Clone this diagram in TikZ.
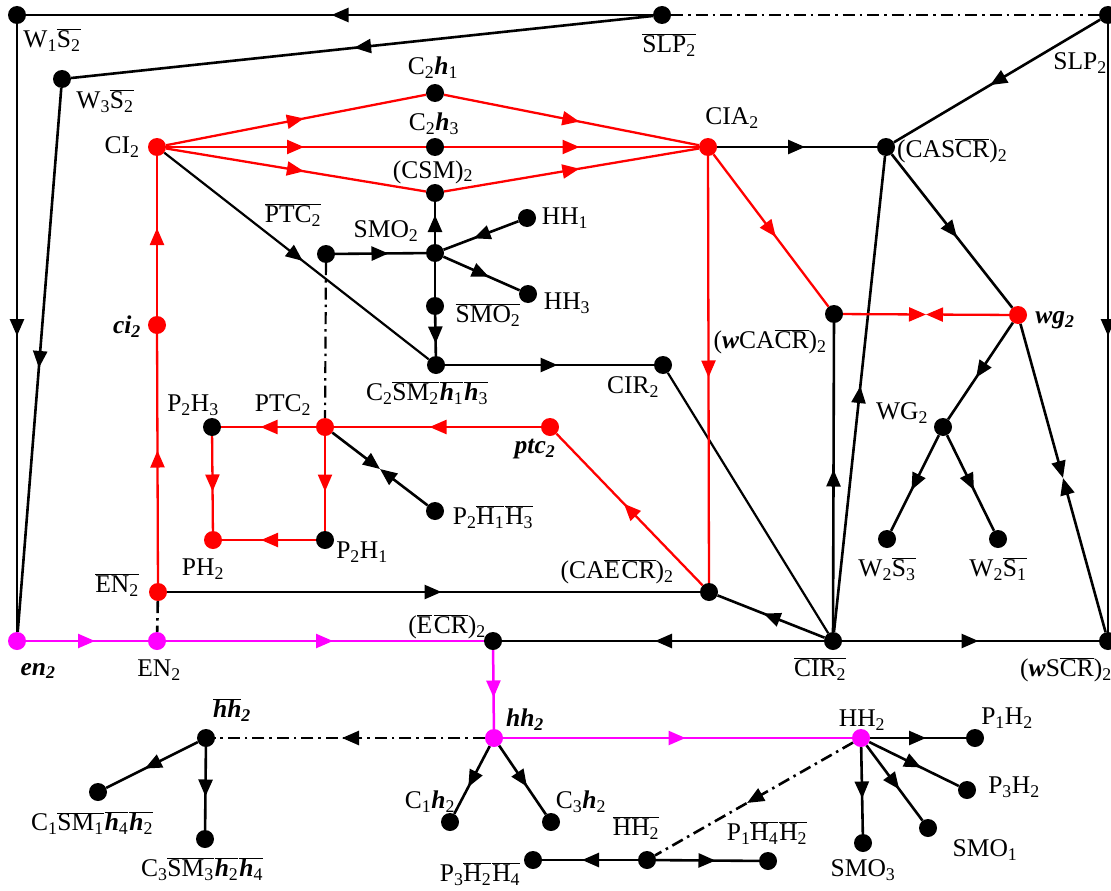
\documentclass[tikz,border=0pt]{standalone}
\usepackage{fontspec}
\setmainfont{Liberation Serif}
\usetikzlibrary{arrows.meta,decorations.markings,calc}
\definecolor{mag}{RGB}{255,0,255}
\definecolor{rd}{RGB}{255,0,0}
\newcommand{\lsub}[1]{\textsubscript{#1}}
\newcommand{\ov}[1]{\ensuremath{\overline{\mbox{#1}}}}
\newcommand{\bi}[1]{\textbf{\textit{#1}}}
\tikzset{
 blk/.style={line width=2.6pt,draw=black},
 thn/.style={line width=2.2pt,draw=black},
 rln/.style={line width=2.3pt,draw=rd},
 mln/.style={line width=2.5pt,draw=mag},
 ma/.style={decoration={markings,mark=at position 0.5 with {\arrow[xshift=8pt]{>}}},postaction={decorate}},
 dd/.style={dash pattern=on 12pt off 5pt on 2.5pt off 5pt},
 bdot/.style={circle,fill=black,inner sep=0pt,minimum size=18pt},
 rdot/.style={bdot,fill=rd},
 mdot/.style={bdot,fill=mag},
 lbl/.style={inner sep=0pt,font=\fontsize{25.5}{29}\selectfont},
}
\begin{document}
\begin{tikzpicture}[x=1pt,y=-1pt,>={Triangle[length=17pt,width=14pt]}]
\useasboundingbox (0,0) rectangle (1111,891);
% dots
\node[bdot] (w1) at (17,15) {};
\node[bdot] (slpb) at (662,15) {};
\node[bdot] (slp) at (1108,15) {};
\node[bdot] (w3) at (62,79) {};
\node[rdot] (ci) at (157,147) {};
\node[bdot] (c2ha) at (435,93) {};
\node[bdot] (c2hc) at (435,147) {};
\node[bdot] (csm) at (435,193) {};
\node[rdot] (cia) at (708,147) {};
\node[bdot] (cascr) at (886,147) {};
\node[bdot] (wcacr) at (834,314) {};
\node[rdot] (wg) at (1018,315) {};
\node[bdot] (wgc) at (943,427) {};
\node[bdot] (w2s3) at (887,539) {};
\node[bdot] (w2s1) at (998,539) {};
\node[bdot] (cirb) at (833,641) {};
\node[bdot] (wscr) at (1108,641) {};
\node[bdot] (caecr) at (709,592) {};
\node[bdot] (cir) at (663,365) {};
\node[bdot] (c2sm) at (436,365) {};
\node[rdot] (ptcs) at (550,427) {};
\node[bdot] (p2hh) at (435,511) {};
\node[bdot] (smob) at (435,306) {};
\node[bdot] (smo) at (435,253) {};
\node[bdot] (ptcb) at (326,254) {};
\node[bdot] (hha) at (527,218) {};
\node[bdot] (hhc) at (528,294) {};
\node[rdot] (cis) at (157,325) {};
\node[bdot] (p2h3) at (212,427) {};
\node[rdot] (ptc) at (325,427) {};
\node[rdot] (ph) at (213,540) {};
\node[bdot] (p2h1) at (325,540) {};
\node[rdot] (enb) at (158,592) {};
\node[mdot] (enc) at (157,641) {};
\node[mdot] (ens) at (17,641) {};
\node[bdot] (hhb) at (206,738) {};
\node[bdot] (c1sm) at (98,792) {};
\node[bdot] (c3sm) at (205,839) {};
\node[bdot] (ecr) at (493,641) {};
\node[mdot] (hhs) at (494,738) {};
\node[bdot] (c1h) at (450,822) {};
\node[bdot] (c3h) at (551,822) {};
\node[bdot] (hh2b) at (647,860) {};
\node[bdot] (p3hh) at (533,860) {};
\node[bdot] (p1hh) at (768,861) {};
\node[mdot] (hh2) at (861,738) {};
\node[bdot] (p1h2) at (975,738) {};
\node[bdot] (p3h2) at (967,790) {};
\node[bdot] (smo1) at (928,828) {};
\node[bdot] (smo3) at (863,843) {};
% black connectors
\draw[blk,ma] (slpb) -- (w1);
\draw[blk,ma] (slpb) -- (w3);
\draw[blk,dd] (slpb) -- (slp);
\draw[blk,ma] (slp) -- (cascr);
\draw[blk,ma] (w1) -- (ens);
\draw[blk,ma] (w3) -- (ens);
\draw[blk,ma] (slp) -- (wscr);
\draw[blk,ma] (cia) -- (cascr);
\draw[blk,ma] (cascr) -- (wg);
\draw[blk,ma] (cirb) -- (cascr);
\draw[blk,ma] (cirb) -- (wcacr);
\draw[blk,ma] (wg) -- (wgc);
\draw[blk,ma] (wgc) -- (w2s3);
\draw[blk,ma] (wgc) -- (w2s1);
\draw[blk,->] (wg) -- ($(wg)!0.5!(wscr)$);
\draw[blk,->] (wscr) -- ($(wg)!0.5!(wscr)$);
\draw[blk,ma] (cirb) -- (wscr);
\draw[blk,ma] (cirb) -- (ecr);
\draw[blk,ma] (cirb) -- (caecr);
\draw[thn] (cir) -- (cirb);
\draw[blk,ma] (c2sm) -- (cir);
\draw[thn,ma] (ci) -- (c2sm);
\draw[blk,ma] (ptcb) -- (smo);
\draw[blk,ma] (smo) -- (csm);
\draw[blk,ma] (hha) -- (smo);
\draw[blk,ma] (smo) -- (hhc);
\draw[blk] (smo) -- (smob);
\draw[blk,ma] (smob) -- (c2sm);
\draw[thn,dd] (ptcb) -- (ptc);
\draw[blk,->] (ptc) -- ($(ptc)!0.5!(p2hh)$);
\draw[blk,->] (p2hh) -- ($(ptc)!0.5!(p2hh)$);
\draw[blk,ma] (enb) -- (caecr);
\draw[blk,dd] (enb) -- (enc);
\draw[blk,dd,ma] (hhs) -- (hhb);
\draw[blk,ma] (hhb) -- (c1sm);
\draw[blk,ma] (hhb) -- (c3sm);
\draw[blk,ma] (hhs) -- (c1h);
\draw[blk,ma] (hhs) -- (c3h);
\draw[blk,ma] (hh2b) -- (p3hh);
\draw[blk,ma] (hh2b) -- (p1hh);
\draw[blk,ma] (hh2) -- (p1h2);
\draw[blk,ma] (hh2) -- (p3h2);
\draw[blk,ma] (hh2) -- (smo1);
\draw[blk,ma] (hh2) -- (smo3);
\draw[blk,dd,ma] (hh2) -- (hh2b);
% red connectors
\draw[rln,ma] (ci) -- (c2ha);
\draw[rln,ma] (c2ha) -- (cia);
\draw[rln,ma] (ci) -- (c2hc);
\draw[rln,ma] (c2hc) -- (cia);
\draw[rln,ma] (ci) -- (csm);
\draw[rln,ma] (csm) -- (cia);
\draw[rln,ma] (cia) -- (wcacr);
\draw[rln,ma] (cia) -- (caecr);
\draw[rln,->] (wcacr) -- ($(wcacr)!0.5!(wg)$);
\draw[rln,->] (wg) -- ($(wcacr)!0.5!(wg)$);
\draw[rln,ma] (enb) -- (cis);
\draw[rln,ma] (cis) -- (ci);
\draw[rln,ma] (caecr) -- (ptcs);
\draw[rln,ma] (ptcs) -- (ptc);
\draw[rln,ma] (ptc) -- (p2h3);
\draw[rln,ma] (p2h3) -- (ph);
\draw[rln,ma] (ptc) -- (p2h1);
\draw[rln,ma] (p2h1) -- (ph);
% magenta connectors
\draw[mln,ma] (ens) -- (enc);
\draw[mln,ma] (enc) -- (ecr);
\draw[mln,ma] (ecr) -- (hhs);
\draw[mln,ma] (hhs) -- (hh2);
% labels
\node[lbl] (Lw1) at (52,40) {W\lsub{1}\ov{S\lsub{2}}};
\node[lbl] (Lslpb) at (669,45) {\ov{SLP\lsub{2}}};
\node[lbl] (Lslp) at (1080,63) {SLP\lsub{2}};
\node[lbl] (Lw3) at (105,101) {W\lsub{3}\ov{S\lsub{2}}};
\node[lbl] (Lci) at (122,147) {CI\lsub{2}};
\node[lbl] (Lc2ha) at (433,68) {C\lsub{2}\bi{h}\lsub{1}};
\node[lbl] (Lc2hc) at (434,124) {C\lsub{2}\bi{h}\lsub{3}};
\node[lbl] (Lcsm) at (433,172) {(CSM)\lsub{2}};
\node[lbl] (Lcia) at (732,118) {CIA\lsub{2}};
\node[lbl,anchor=west] (Lcascr) at (897,151) {(CAS\ov{CR})\lsub{2}};
\node[lbl] (Lwcacr) at (770,342) {(\bi{w}CA\ov{CR})\lsub{2}};
\node[lbl] (Lwg) at (1055,320) {\bi{wg\lsub{2}}};
\node[lbl] (Lwgc) at (902,413) {WG\lsub{2}};
\node[lbl] (Lw2s3) at (887,569) {W\lsub{2}\ov{S\lsub{3}}};
\node[lbl] (Lw2s1) at (998,569) {W\lsub{2}\ov{S\lsub{1}}};
\node[lbl] (Lcirb) at (820,669) {\ov{CIR\lsub{2}}};
\node[lbl,anchor=west] (Lwscr) at (1020,670) {(\bi{w}S\ov{CR})\lsub{2}};
\node[lbl] (Lcaecr) at (617,572) {(CA\ov{E}\hspace{1.5pt}\ov{CR})\lsub{2}};
\node[lbl] (Lcir) at (633,387) {CIR\lsub{2}};
\node[lbl] (Lc2sm) at (427,393) {C\lsub{2}\ov{SM\lsub{2}}\hspace{1pt}\ov{\bi{h}\lsub{1}}\hspace{1pt}\ov{\bi{h}\lsub{3}}};
\node[lbl] (Lptcs) at (535,449) {\bi{ptc\lsub{2}}};
\node[lbl] (Lp2hh) at (493,517) {P\lsub{2}\ov{H\lsub{1}}\hspace{1pt}\ov{H\lsub{3}}};
\node[lbl] (Lsmob) at (488,315) {\ov{SMO\lsub{2}}};
\node[lbl] (Lsmo) at (386,231) {SMO\lsub{2}};
\node[lbl] (Lptcb) at (293,215) {\ov{PTC\lsub{2}}};
\node[lbl] (Lhha) at (565,218) {HH\lsub{1}};
\node[lbl] (Lhhc) at (567,303) {HH\lsub{3}};
\node[lbl] (Lcis) at (127,327) {\bi{ci\lsub{2}}};
\node[lbl] (Lp2h3) at (193,405) {P\lsub{2}H\lsub{3}};
\node[lbl] (Lptc) at (283,405) {PTC\lsub{2}};
\node[lbl] (Lph) at (203,569) {PH\lsub{2}};
\node[lbl] (Lp2h1) at (362,552) {P\lsub{2}H\lsub{1}};
\node[lbl] (Lenb) at (117,585) {\ov{EN\lsub{2}}};
\node[lbl] (Lenc) at (159,670) {EN\lsub{2}};
\node[lbl] (Lens) at (38,671) {\bi{en\lsub{2}}};
\node[lbl] (Lhhb) at (232,710) {\ov{\bi{hh}}\bi{\lsub{2}}};
\node[lbl] (Lc1sm) at (92,823) {C\lsub{1}\ov{SM\lsub{1}}\hspace{1pt}\ov{\bi{h}\lsub{4}}\hspace{1pt}\ov{\bi{h}\lsub{2}}};
\node[lbl] (Lc3sm) at (202,869) {C\lsub{3}\ov{SM\lsub{3}}\hspace{1pt}\ov{\bi{h}\lsub{2}}\hspace{1pt}\ov{\bi{h}\lsub{4}}};
\node[lbl] (Lecr) at (447,627) {(\ov{E}\hspace{1.5pt}\ov{CR})\lsub{2}};
\node[lbl] (Lhhs) at (525,720) {\bi{hh\lsub{2}}};
\node[lbl] (Lc1h) at (430,802) {C\lsub{1}\bi{h}\lsub{2}};
\node[lbl] (Lc3h) at (581,802) {C\lsub{3}\bi{h}\lsub{2}};
\node[lbl] (Lhh2b) at (636,828) {\ov{HH\lsub{2}}};
\node[lbl] (Lp3hh) at (480,874) {P\lsub{3}\ov{H\lsub{2}}\hspace{1pt}\ov{H\lsub{4}}};
\node[lbl] (Lp1hh) at (767,833) {P\lsub{1}\ov{H\lsub{4}}\hspace{1pt}\ov{H\lsub{2}}};
\node[lbl] (Lhh2) at (862,720) {HH\lsub{2}};
\node[lbl] (Lp1h2) at (1007,718) {P\lsub{1}H\lsub{2}};
\node[lbl] (Lp3h2) at (1014,787) {P\lsub{3}H\lsub{2}};
\node[lbl] (Lsmo1) at (985,850) {SMO\lsub{1}};
\node[lbl] (Lsmo3) at (863,870) {SMO\lsub{3}};
\end{tikzpicture}
\end{document}
